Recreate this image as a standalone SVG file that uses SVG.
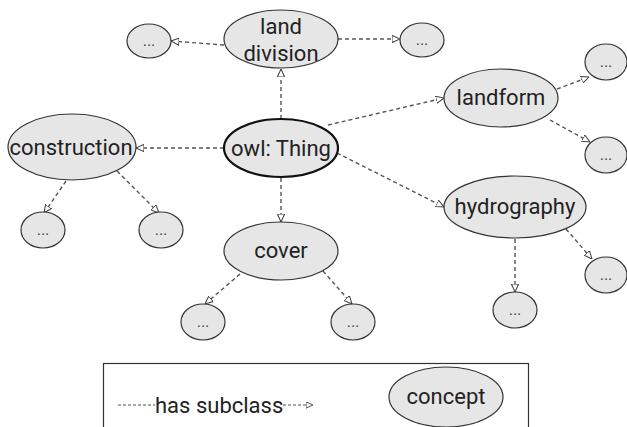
<svg xmlns="http://www.w3.org/2000/svg" width="627" height="427" viewBox="0 0 627 427">
<style>
.n{fill:#e6e6e6;stroke:#333;stroke-width:1.2}
.root{fill:#e6e6e6;stroke:#111;stroke-width:2.2}
.t{font-family:Roboto,"Liberation Sans",sans-serif;font-size:22px;fill:#222;text-anchor:middle;dominant-baseline:central}
.d{font-family:"Liberation Sans",sans-serif;font-size:15px;fill:#444;text-anchor:middle}
.e{stroke:#555;stroke-width:1.4;stroke-dasharray:4 3;fill:none;marker-end:url(#ah)}
</style>
<defs>
<marker id="ah" viewBox="0 0 10 10" refX="10" refY="5" markerWidth="8" markerHeight="8" markerUnits="userSpaceOnUse" orient="auto">
<path d="M0,0.5 L10,5 L0,9.5 Z" fill="#fff" stroke="#444" stroke-width="1.3"/>
</marker>
<marker id="ahs" viewBox="0 0 10 10" refX="10" refY="5" markerWidth="7" markerHeight="7" markerUnits="userSpaceOnUse" orient="auto">
<path d="M0,0.5 L10,5 L0,9.5 Z" fill="#fff" stroke="#444" stroke-width="1.3"/>
</marker>
</defs>
<g id="connectors">
<line class="e" x1="281" y1="119" x2="281" y2="69"/>
<line class="e" x1="224" y1="45" x2="171" y2="41"/>
<line class="e" x1="338" y1="39" x2="400" y2="39"/>
<line class="e" x1="224" y1="148" x2="136" y2="148"/>
<line class="e" x1="328" y1="125" x2="444" y2="98"/>
<line class="e" x1="337" y1="153" x2="444" y2="207"/>
<line class="e" x1="281" y1="178" x2="281" y2="222"/>
<line class="e" x1="66" y1="181" x2="44" y2="213"/>
<line class="e" x1="117" y1="171" x2="159" y2="213"/>
<line class="e" x1="240" y1="274" x2="205" y2="304"/>
<line class="e" x1="323" y1="271" x2="352" y2="304"/>
<line class="e" x1="557" y1="89" x2="589" y2="77"/>
<line class="e" x1="550" y1="120" x2="590" y2="142"/>
<line class="e" x1="515" y1="239" x2="515" y2="292"/>
<line class="e" x1="566" y1="229" x2="592" y2="259"/>
</g>
<g id="owl-thing"><ellipse class="root" cx="281" cy="148" rx="57" ry="29"/><text class="t" x="281" y="148">owl: Thing</text></g>
<g id="land-division"><ellipse class="n" cx="281" cy="39" rx="57" ry="29"/><text class="t" x="281" y="26">land</text><text class="t" x="281" y="53">division</text></g>
<g id="ld-left"><ellipse class="n" cx="149" cy="41" rx="22" ry="17"/><text class="d" x="149" y="46">...</text></g>
<g id="ld-right"><ellipse class="n" cx="422" cy="40" rx="22" ry="17"/><text class="d" x="422" y="45">...</text></g>
<g id="construction"><ellipse class="n" cx="72" cy="147" rx="64" ry="33"/><text class="t" x="71" y="147">construction</text></g>
<g id="con-left"><ellipse class="n" cx="43" cy="230" rx="22" ry="18"/><text class="d" x="43" y="235">...</text></g>
<g id="con-right"><ellipse class="n" cx="161" cy="230" rx="22" ry="18"/><text class="d" x="161" y="235">...</text></g>
<g id="cover"><ellipse class="n" cx="281" cy="251" rx="57" ry="29"/><text class="t" x="281" y="250">cover</text></g>
<g id="cov-left"><ellipse class="n" cx="203" cy="322" rx="22" ry="18"/><text class="d" x="203" y="327">...</text></g>
<g id="cov-right"><ellipse class="n" cx="353" cy="322" rx="22" ry="18"/><text class="d" x="353" y="327">...</text></g>
<g id="landform"><ellipse class="n" cx="501" cy="98" rx="57" ry="29"/><text class="t" x="501" y="97">landform</text></g>
<g id="lf-up"><ellipse class="n" cx="606" cy="62" rx="21" ry="18"/><text class="d" x="606" y="67">...</text></g>
<g id="lf-down"><ellipse class="n" cx="606" cy="155" rx="21" ry="18"/><text class="d" x="606" y="160">...</text></g>
<g id="hydrography"><ellipse class="n" cx="515" cy="207" rx="71" ry="31"/><text class="t" x="515" y="206">hydrography</text></g>
<g id="hy-down"><ellipse class="n" cx="515" cy="310" rx="22" ry="18"/><text class="d" x="515" y="315">...</text></g>
<g id="hy-right"><ellipse class="n" cx="606" cy="275" rx="21" ry="18"/><text class="d" x="606" y="280">...</text></g>
<g id="legend">
<rect x="103.5" y="363.5" width="425" height="70" fill="#fff" stroke="#333" stroke-width="1.2"/>
<line x1="118" y1="405" x2="155" y2="405" stroke="#555" stroke-width="1.2" stroke-dasharray="3 2"/>
<text x="155" y="405" font-family="Roboto,'Liberation Sans',sans-serif" font-size="22" fill="#222" dominant-baseline="central">has subclass</text>
<line x1="283" y1="405" x2="313" y2="405" stroke="#555" stroke-width="1.2" stroke-dasharray="3 2" marker-end="url(#ahs)"/>
<ellipse class="n" cx="446" cy="397" rx="57" ry="30"/>
<text class="t" x="446" y="396">concept</text>
</g>
</svg>
